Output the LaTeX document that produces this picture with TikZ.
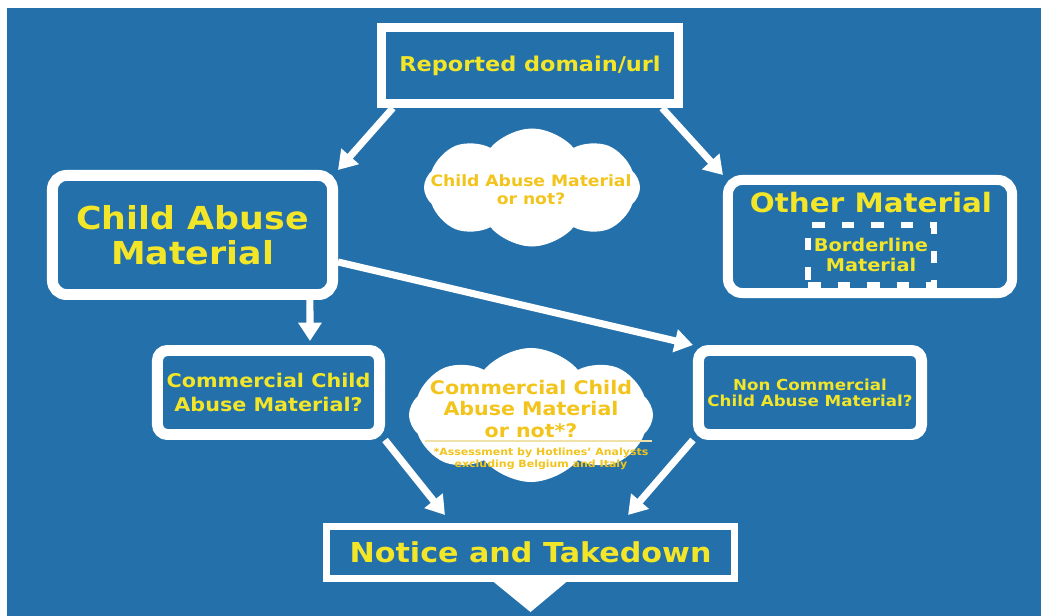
\documentclass[tikz,border=0pt]{standalone}
\usepackage{fontspec}
\setmainfont[FakeStretch=1.1]{DejaVu Sans}
\usetikzlibrary{arrows.meta,calc,shapes.symbols}
\definecolor{bgblue}{RGB}{35,112,170}
\definecolor{boxyellow}{RGB}{243,230,40}
\definecolor{cloudyellow}{RGB}{242,196,28}
\definecolor{rulecol}{RGB}{240,225,170}
\newcommand{\fsz}[2]{\fontsize{#1}{#2}\selectfont\bfseries}
\begin{document}
\begin{tikzpicture}[x=0.025cm, y=-0.025cm,
  box/.style={draw=white, fill=bgblue, text=boxyellow, align=center, inner sep=0pt},
  rbox/.style={box, rounded corners=0.35cm},
  sbox/.style={box, rounded corners=0.25cm},
  flow/.style={white, line width=5pt, -{Triangle[length=13pt,width=16pt]}},
  puff/.style={cloud, cloud puffs=8, cloud puff arc=100, cloud ignores aspect, fill=white, draw=none,
    inner sep=0pt},
  puffText/.style={text=cloudyellow, align=center}]
  % page and backdrop
  \fill[white] (0,0) rectangle (1041,616);
  \useasboundingbox (0,0) rectangle (1041,616);
  \fill[bgblue] (7,8) rectangle (1041,616);
  % boxes
  \node[box, line width=6.4pt, minimum width=7.43cm, minimum height=1.9cm, font=\fsz{14.5}{17}] (rep) at (530,65.5) {Reported domain/url};
  \node[rbox, line width=7.8pt, minimum width=7cm, minimum height=2.975cm, font=\fsz{22.5}{24.8}] (cam) at (192.5,235) {Child Abuse\\Material};
  \node[rbox, line width=7.1pt, minimum width=7.1cm, minimum height=2.825cm] (oth) at (870,236.5) {};
  \node[text=boxyellow, font=\fsz{19}{22}] (othtxt) at (871,203) {Other Material};
  \node[draw=white, line width=4.5pt, dash pattern=on 9pt off 12pt, text=boxyellow, align=center,
    minimum width=3.15cm, minimum height=1.5cm, inner sep=0pt, font=\fsz{12.5}{14}] (bord) at (871,255) {Borderline\\Material};
  \node[sbox, line width=7.8pt, minimum width=5.55cm, minimum height=2.1cm, font=\fsz{13.4}{17}] (com) at (268.5,392.5) {Commercial Child\\Abuse Material?};
  \node[sbox, line width=7.8pt, minimum width=5.575cm, minimum height=2.1cm, font=\fsz{10.8}{11.5}] (ncom) at (810,392.5) {Non Commercial\\Child Abuse Material?};
  \node[box, line width=5pt, minimum width=10.2cm, minimum height=1.3cm, font=\fsz{19.5}{24}] (ntd) at (530.5,552.5) {Notice and Takedown};
  \fill[white] ($(ntd.south)+(-38,-1)$) -- ($(ntd.south)+(37,-1)$) -- ($(ntd.south)+(0,30)$) -- cycle;
  % clouds
  \node[puff, minimum width=5.4cm, minimum height=2.95cm] (cld1) at (532,187.5) {};
  \node[puffText, font=\fsz{11.1}{12.8}] (cld1txt) at (531,190) {Child Abuse Material\\or not?};
  \node[puff, minimum width=6.1cm, minimum height=3.35cm] (cld2) at (531,415) {};
  \node[puffText, font=\fsz{13.3}{15.2}] (cld2txt) at (531,409) {Commercial Child\\Abuse Material\\or not*?};
  \node[puffText, font=\fsz{7.1}{8.5}] (cld2note) at (541,459) {*Assessment by Hotlines' Analysts\\excluding Belgium and Italy};
  \draw[rulecol, line width=0.8pt] (425,441) -- (652,441);
  % arrows
  \draw[flow] ($(rep.south west)+(16,0)$) -- (cam.north east);
  \draw[flow] ($(rep.south east)+(-21,0)$) -- (oth.north west);
  \draw[flow] ($(cam.east)+(0,27)$) -- (ncom.north west);
  \draw[flow] ($(cam.south west)+(263,0)$) -- ($(com.north west)+(158,-4)$);
  \draw[flow] (com.south east) -- ($(ntd.north west)+(122,-8)$);
  \draw[flow] (ncom.south west) -- ($(ntd.north east)+(-110,-8)$);
\end{tikzpicture}
\end{document}
